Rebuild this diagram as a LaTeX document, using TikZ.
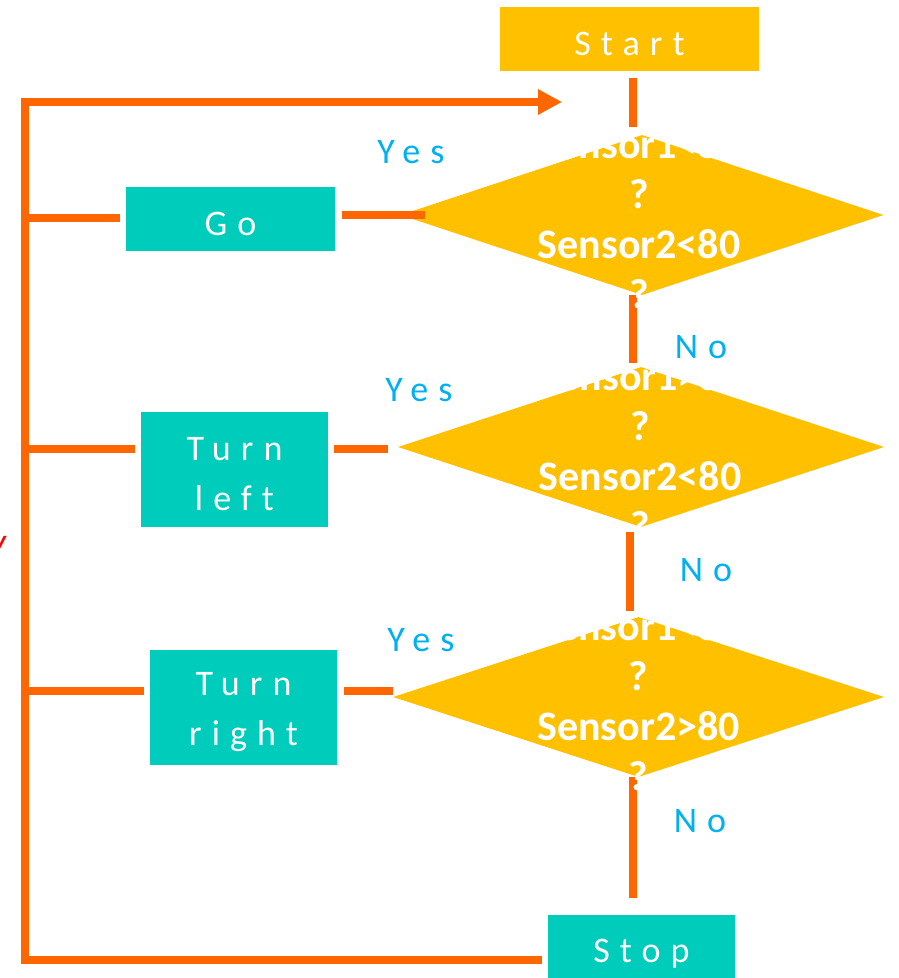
\documentclass[tikz,border=0pt]{standalone}
\usepackage{fontspec}
\setmainfont{Carlito}
\newfontfamily\spacedfont[LetterSpace=28,Ligatures=NoCommon]{Carlito}
\usetikzlibrary{shapes.geometric,arrows.meta,calc}

\definecolor{floworange}{RGB}{255,102,0}
\definecolor{decisionyellow}{RGB}{255,192,0}
\definecolor{actionteal}{RGB}{0,204,187}
\definecolor{labelblue}{RGB}{0,176,240}

\begin{document}
\begin{tikzpicture}[x=1pt,y=-1pt,
  flow/.style={draw=floworange, line width=8pt, line join=miter},
  boxy/.style={fill=actionteal, inner sep=0pt},
  boxtext/.style={text=white, inner sep=0pt, align=center, yshift=-5pt,
    font=\spacedfont\fontsize{36}{50}\selectfont},
  decision/.style={diamond, fill=decisionyellow, inner sep=0pt, draw=none},
  question/.style={text=white, align=center,
    font=\bfseries\fontsize{42}{50}\selectfont},
  answer/.style={text=labelblue, font=\spacedfont\fontsize{36}{44}\selectfont}]

\clip (0,0) rectangle (898,978);

% terminals and actions
\node[boxy, fill=decisionyellow, minimum width=259, minimum height=64,
  label={[boxtext]center:Start}] (start) at (629.5,39) {};
\node[boxy, minimum width=209, minimum height=64,
  label={[boxtext]center:Go}] (go) at (230.5,219) {};
\node[boxy, minimum width=187, minimum height=115,
  label={[boxtext]center:Turn\\left}] (tleft) at (234.5,469.5) {};
\node[boxy, minimum width=187, minimum height=115,
  label={[boxtext]center:Turn\\right}] (tright) at (243.5,707.5) {};
\node[boxy, minimum width=187, minimum height=64,
  label={[boxtext, yshift=-2pt]center:Stop}] (stop) at (641.5,947) {};

% decisions
\node[decision, minimum width=483, minimum height=160] (d1) at (642,215) {};
\node[decision, minimum width=486, minimum height=160] (d2) at (641,447) {};
\node[decision, minimum width=491, minimum height=160] (d3) at (638.5,697) {};

% helper coordinates
\coordinate (trunk) at (633,0);
\coordinate (trunkb) at (630,0);
\coordinate (busTop) at (25,102);
\coordinate (busBot) at (25,960);
\coordinate (entry) at (562,102);
\coordinate (grow) at (0,218);
\coordinate (lrow) at (0,449);
\coordinate (rrow) at (0,691);

% main trunk
\draw[flow, shorten <=7pt, shorten >=8pt] (start.south -| trunk) -- (d1.north -| trunk);
\draw[flow, shorten >=4pt] (d1.south -| trunk) -- (d2.north -| trunk);
\draw[flow, shorten <=5pt, shorten >=6pt] (d2.south -| trunkb) -- (d3.north -| trunkb);
\draw[flow, shorten >=17pt] (d3.south -| trunk) -- (stop.north -| trunk);

% return loop
\draw[flow, shorten <=6pt, -{Triangle[length=24pt,width=24pt]}]
  (stop.west |- busBot) -- (busBot) -- (busTop) -- (entry);

% branches
\draw[flow, shorten >=6pt] (busBot |- grow) -- (go.west |- grow);
\draw[flow, shorten <=7pt] (go.east |- d1.west) -- ($(d1.west)+(25,0)$);
\draw[flow, shorten >=6pt] (busBot |- lrow) -- (tleft.west |- lrow);
\draw[flow, shorten <=6pt, shorten >=10pt] (tleft.east |- lrow) -- (d2.west |- lrow);
\draw[flow, shorten >=6pt] (busBot |- rrow) -- (tright.west |- rrow);
\draw[flow, shorten <=7pt] (tright.east |- rrow) -- (d3.west |- rrow);

% decision texts
\node[question] (q1) at ($(d1)+(-3,4)$) {Sensor1<80\\?\\Sensor2<80\\?};
\node[question] (q2) at ($(d2)+(-1,4)$) {Sensor1>80\\?\\Sensor2<80\\?};
\node[question] (q3) at ($(d3)+(0,4)$) {Sensor1<80\\?\\Sensor2>80\\?};

% answers
\node[answer] (y1) at (411,152) {Yes};
\node[answer] (y2) at (419,390) {Yes};
\node[answer] (y3) at (421,640) {Yes};
\node[answer] (n1) at (701,347) {No};
\node[answer] (n2) at (706,570) {No};
\node[answer] (n3) at (700,821) {No};

\node[text=red, font=\itshape\fontsize{36}{40}\selectfont, anchor=base] (mark) at (-2,553) {y};
\end{tikzpicture}
\end{document}
